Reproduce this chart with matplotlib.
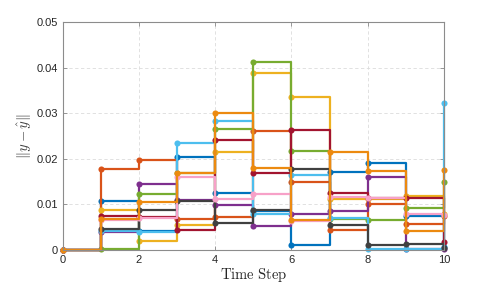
import matplotlib
matplotlib.use("Agg")
import matplotlib.pyplot as plt
import numpy as np

plt.rcParams['mathtext.fontset'] = 'cm'
plt.rcParams['font.family'] = ['Liberation Sans', 'DejaVu Sans']

steps = list(range(11))

blue      = [0, 0.0107, 0.0042, 0.0204, 0.0125, 0.0085, 0.0010, 0.0172, 0.0190, 0.0075, 0.0007]
orangered = [0, 0.0177, 0.0197, 0.0068, 0.0072, 0.0262, 0.0149, 0.0043, 0.0101, 0.0057, 0.0075]
yellow    = [0, 0.0088, 0.0020, 0.0055, 0.0215, 0.0388, 0.0336, 0.0112, 0.0112, 0.0119, 0.0078]
purple    = [0, 0.0039, 0.0144, 0.0110, 0.0099, 0.0053, 0.0080, 0.0086, 0.0159, 0.0003, 0.0003]
green     = [0, 0.0002, 0.0123, 0.0168, 0.0265, 0.0412, 0.0217, 0.0069, 0.0065, 0.0091, 0.0149]
lightblue = [0, 0.0042, 0.0040, 0.0234, 0.0283, 0.0080, 0.0165, 0.0070, 0.0002, 0.0003, 0.0322]
darkred   = [0, 0.0075, 0.0072, 0.0044, 0.0241, 0.0169, 0.0263, 0.0124, 0.0115, 0.0113, 0.0017]
darkgray  = [0, 0.0046, 0.0088, 0.0108, 0.0059, 0.0087, 0.0178, 0.0054, 0.0010, 0.0014, 0.0005]
pink      = [0, 0.0066, 0.0070, 0.0161, 0.0112, 0.0122, 0.0064, 0.0116, 0.0115, 0.0080, 0.0077]
orange    = [0, 0.0068, 0.0105, 0.0168, 0.0300, 0.0180, 0.0065, 0.0216, 0.0173, 0.0041, 0.0175]

series = [
    (blue, '#0072BD'),
    (orangered, '#D95319'),
    (yellow, '#EDB120'),
    (purple, '#7E2F8E'),
    (green, '#77AC30'),
    (lightblue, '#4DBEEE'),
    (darkred, '#A2142F'),
    (darkgray, '#404040'),
    (pink, '#F7A1C8'),
    (orange, '#EC8A10'),
]

xticks = [0, 2, 4, 6, 8, 10]
yticks = [0, 0.01, 0.02, 0.03, 0.04, 0.05]
ytick_labels = ['0', '0.01', '0.02', '0.03', '0.04', '0.05']

fig = plt.figure(figsize=(4.91, 2.90), dpi=100)
ax = fig.add_axes([0.128, 0.138, 0.776, 0.786])

for vals, col in series:
    ax.step(steps, vals, where='post', color=col, linewidth=1.6, clip_on=False)
    ax.plot(steps, vals, linestyle='none', marker='o', markersize=4.4,
            color=col, markeredgewidth=0, clip_on=False)

ax.set_xlim(0, 10)
ax.set_ylim(0, 0.05)
ax.set_xticks(xticks)
ax.set_yticks(yticks)
ax.set_yticklabels(ytick_labels)
ax.grid(True, linestyle=(0, (4, 3)), color='#dcdcdc', linewidth=0.6)
ax.set_axisbelow(True)
ax.tick_params(direction='in', length=3, width=0.6, colors='#888888',
               labelcolor='#262626', labelsize=8, top=True, right=True)
for s in ax.spines.values():
    s.set_color('#8c8c8c')
    s.set_linewidth(0.8)

ax.set_xlabel(r'$\mathrm{Time\ Step}$', fontsize=10.5, color='#262626', labelpad=1)
ax.set_ylabel(r'$\|y-\hat{y}\|$', fontsize=10.5, color='#404040', labelpad=2)

fig.savefig('out.png', dpi=100)
